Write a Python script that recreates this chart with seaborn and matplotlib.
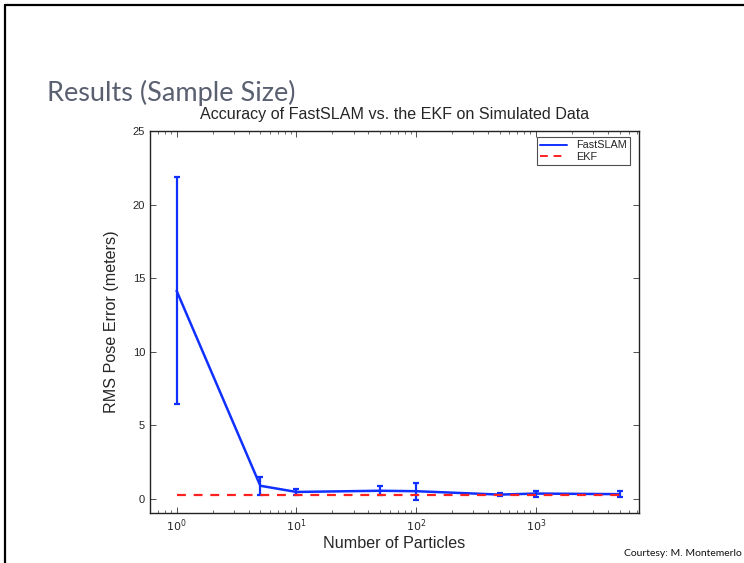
import numpy as np
import pandas as pd
import matplotlib
matplotlib.use("Agg")
import matplotlib.pyplot as plt
import seaborn as sns
from matplotlib.lines import Line2D

# ---- data ----
particles = [1, 5, 10, 50, 100, 500, 1000, 5000]
fastslam_rms = [14.15, 0.90, 0.48, 0.56, 0.53, 0.30, 0.37, 0.33]
fastslam_err = [7.70, 0.60, 0.18, 0.32, 0.58, 0.08, 0.20, 0.22]
ekf_x = [1, 5000]
ekf_rms = [0.27, 0.27]

slide_title = "Results (Sample Size)"
chart_title = "Accuracy of FastSLAM vs. the EKF on Simulated Data"
x_label = "Number of Particles"
y_label = "RMS Pose Error (meters)"
credit = "Courtesy: M. Montemerlo"
y_ticks = [0, 5, 10, 15, 20, 25]

sns.set_style("ticks")
plt.rcParams["font.family"] = ["Liberation Sans", "DejaVu Sans"]

fig = plt.figure(figsize=(7.44, 5.63), dpi=100)
ax = fig.add_axes([150/744, 1 - 512.7/563, (639-150)/744, (512.7-131)/563])

df = pd.DataFrame({"Particles": particles, "RMS": fastslam_rms})
sns.lineplot(data=df, x="Particles", y="RMS", ax=ax, color="#1030ff", lw=1.8, label="FastSLAM")
ax.errorbar(particles, fastslam_rms, yerr=fastslam_err, fmt="none", ecolor="#1030ff",
            elinewidth=1.6, capsize=2.5, capthick=1.6)
df2 = pd.DataFrame({"Particles": ekf_x, "RMS": ekf_rms})
sns.lineplot(data=df2, x="Particles", y="RMS", ax=ax, color="#ff2020", lw=1.6,
             linestyle=(0, (4, 3.5)), label="EKF")

ax.set_xscale("log")
ax.set_xlim(0.6, 7250)
ax.set_ylim(-0.93, 25)
ax.set_yticks(y_ticks)
ax.set_xticks([1, 10, 100, 1000])
ax.set_xticklabels([r"$10^{0}$", r"$10^{1}$", r"$10^{2}$", r"$10^{3}$"])
ax.tick_params(which="both", direction="in", top=True, right=True, labelsize=8, color="#333333")
ax.tick_params(which="major", length=4, width=0.6)
ax.tick_params(which="minor", length=2, width=0.5)
for s in ax.spines.values():
    s.set_linewidth(1.0)
    s.set_color("#222222")

ax.set_title(chart_title, fontsize=11.6, pad=9)
ax.set_xlabel(x_label, fontsize=11.6, labelpad=1)
ax.set_ylabel(y_label, fontsize=11.6, labelpad=10)

handles = [Line2D([0], [0], color="#1030ff", lw=1.4),
           Line2D([0], [0], color="#ff2020", lw=1.4, linestyle=(0, (4, 3)))]
leg = ax.legend(handles, ["FastSLAM", "EKF"], loc="upper right", fontsize=7.8,
                frameon=True, fancybox=False, borderpad=0.3, labelspacing=0.1,
                handlelength=2.5, borderaxespad=0.5, bbox_to_anchor=(0.993, 0.998))
leg.get_frame().set_edgecolor("#222222")
leg.get_frame().set_linewidth(0.8)

# slide elements
fig.text(47/744, 1 - 93/563, slide_title, fontsize=19.5, color="#5a6070",
         family=["Lato", "DejaVu Sans"], va="center", ha="left")
fig.text(742/744, 1 - 553/563, credit, fontsize=7.5, color="#111111",
         family=["Lato", "DejaVu Sans"], va="center", ha="right")
fig.add_artist(Line2D([5/744, 5/744], [0, 1 - 5/563], transform=fig.transFigure, color="black", lw=1.6))
fig.add_artist(Line2D([5/744, 1], [1 - 5/563, 1 - 5/563], transform=fig.transFigure, color="black", lw=1.6))

fig.savefig("out.png", dpi=100)
